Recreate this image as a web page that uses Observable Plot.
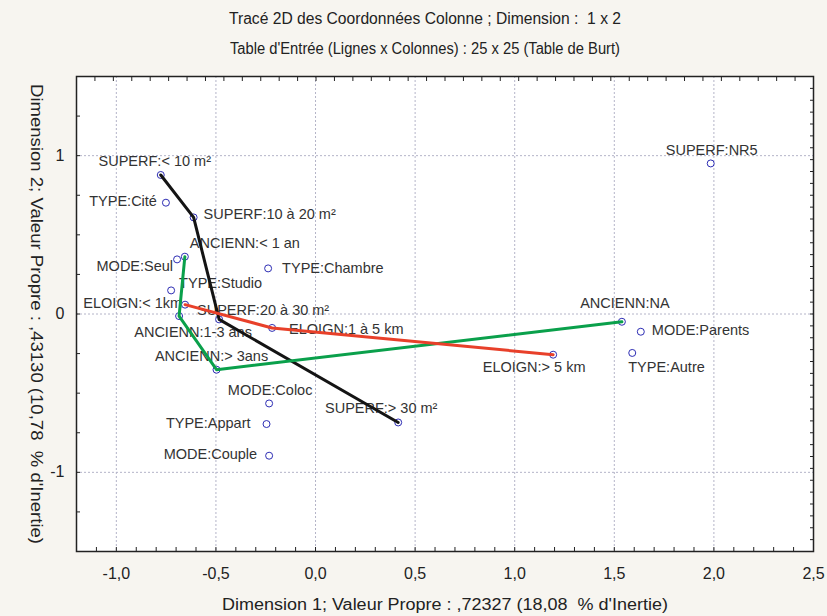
<!DOCTYPE html>
<html><head><meta charset="utf-8">
<script src="https://cdn.jsdelivr.net/npm/d3@7"></script>
<script src="https://cdn.jsdelivr.net/npm/@observablehq/plot@0.6"></script>
<style>
body{margin:0;background:#f7f5f0;}
#chart svg{display:block;}
</style></head><body><div id="chart"></div>
<script>
const labels = ["SUPERF:< 10 m²","TYPE:Cité","SUPERF:10 à 20 m²","ANCIENN:< 1 an","MODE:Seul","TYPE:Studio","ELOIGN:< 1km","ANCIENN:1-3 ans","SUPERF:20 à 30 m²","ELOIGN:1 à 5 km","ANCIENN:> 3ans","MODE:Coloc","TYPE:Appart","MODE:Couple","SUPERF:> 30 m²","TYPE:Chambre","SUPERF:NR5","ANCIENN:NA","MODE:Parents","TYPE:Autre","ELOIGN:> 5 km"];
const dim1 = [-0.777,-0.751,-0.612,-0.656,-0.695,-0.725,-0.655,-0.685,-0.484,-0.218,-0.497,-0.233,-0.246,-0.233,0.415,-0.238,1.984,1.538,1.633,1.590,1.193];
const dim2 = [0.878,0.703,0.610,0.362,0.345,0.149,0.059,-0.013,-0.034,-0.088,-0.352,-0.565,-0.695,-0.895,-0.685,0.288,0.951,-0.049,-0.112,-0.246,-0.257];
const superfPath = ["SUPERF:< 10 m²","SUPERF:10 à 20 m²","SUPERF:20 à 30 m²","SUPERF:> 30 m²"];
const anciennPath = ["ANCIENN:< 1 an","ANCIENN:1-3 ans","ANCIENN:> 3ans","ANCIENN:NA"];
const eloignPath = ["ELOIGN:< 1km","ELOIGN:1 à 5 km","ELOIGN:> 5 km"];
const xTicks = [-1.0,-0.5,0.0,0.5,1.0,1.5,2.0,2.5];
const yTicks = [-1,0,1];
const title = "Tracé 2D des Coordonnées Colonne ; Dimension :  1 x 2";
const subtitle = "Table d'Entrée (Lignes x Colonnes) : 25 x 25 (Table de Burt)";
const xLabel = "Dimension 1; Valeur Propre : ,72327 (18,08  % d'Inertie)";
const yLabel = "Dimension 2; Valeur Propre : ,43130 (10,78  % d'Inertie)";

// label placement (layout only)
const placement = {
  "SUPERF:< 10 m²":["middle",-6,-14],
  "TYPE:Cité":["end",-9,-1],
  "SUPERF:10 à 20 m²":["start",10,-3],
  "ANCIENN:< 1 an":["start",5,-13],
  "MODE:Seul":["end",-4,7],
  "TYPE:Studio":["start",8,-7],
  "ELOIGN:< 1km":["end",-3,-1],
  "ANCIENN:1-3 ans":["middle",14,16],
  "SUPERF:20 à 30 m²":["middle",44,-9],
  "ELOIGN:1 à 5 km":["start",17,1],
  "ANCIENN:> 3ans":["middle",-5,-13],
  "MODE:Coloc":["middle",1,-13],
  "TYPE:Appart":["end",-16,-1],
  "MODE:Couple":["end",-12,-1],
  "SUPERF:> 30 m²":["middle",-17,-14],
  "TYPE:Chambre":["start",14,0],
  "SUPERF:NR5":["middle",1,-13],
  "ANCIENN:NA":["middle",3,-18],
  "MODE:Parents":["start",11,-1],
  "TYPE:Autre":["start",-4,14],
  "ELOIGN:> 5 km":["middle",-19,13]
};

const rows = labels.map((l,i)=>({label:l, x:dim1[i], y:dim2[i]}));
const byLabel = new Map(rows.map(r=>[r.label,r]));
const path = names => names.map(n=>byLabel.get(n));

const sans = "'Liberation Sans',Arial,sans-serif";
const fmtX = d => d.toFixed(1).replace(".", ",");

const minorBottom = d3.range(-12, 26).map(i=>i/10);
const minorTop = d3.range(0, 41).map(i=>-1.2 + i*3.7/40);
const minorLeft = d3.range(-6, 7).map(i=>i/4);
const minorRight = d3.range(0, 41).map(i=>-1.5 + i*3/40);

const textMarks = rows.map(r=>{
  const [a,dx,dy] = placement[r.label];
  return Plot.text([r], {x:"x", y:"y", text:"label", textAnchor:a, dx, dy, fontSize:14.5, fill:"#333", fontFamily:sans, lineAnchor:"middle"});
});

const tickStyle = {tickFormat:()=>"", label:null, stroke:"#222"};

const chart = Plot.plot({
  width: 827, height: 616,
  marginLeft: 76, marginRight: 14, marginTop: 76, marginBottom: 65,
  style: {background:"#f7f5f0", fontFamily: sans},
  x: {domain:[-1.2,2.5]},
  y: {domain:[-1.5,1.5]},
  marks: [
    Plot.frame({fill:"white", stroke:null}),
    Plot.gridX(xTicks, {stroke:"#b4b4c8", strokeOpacity:1, strokeDasharray:"2,2"}),
    Plot.gridY(yTicks, {stroke:"#b4b4c8", strokeOpacity:1, strokeDasharray:"2,2"}),
    Plot.axisX(minorBottom, {anchor:"bottom", tickSize:4, dy:-4, ...tickStyle}),
    Plot.axisX(minorTop, {anchor:"top", tickSize:4, dy:4, ...tickStyle}),
    Plot.axisY(minorLeft, {anchor:"left", tickSize:4, dx:4, ...tickStyle}),
    Plot.axisY(minorRight, {anchor:"right", tickSize:4, dx:-4, ...tickStyle}),
    Plot.axisX(xTicks, {anchor:"bottom", tickSize:0, tickPadding:16, tickFormat:fmtX, fontSize:16, fill:"#222", label:null}),
    Plot.axisY(yTicks, {anchor:"left", tickSize:0, tickPadding:12, tickFormat:d=>String(d), fontSize:16, fill:"#222", label:null}),
    ...textMarks,
    Plot.dot(rows, {x:"x", y:"y", r:3.5, stroke:"#2d2db4", fill:"white", strokeWidth:1}),
    Plot.line(path(superfPath), {x:"x", y:"y", stroke:"#141414", strokeWidth:3}),
    Plot.line(path(anciennPath), {x:"x", y:"y", stroke:"#0aa04b", strokeWidth:3}),
    Plot.line(path(eloignPath), {x:"x", y:"y", stroke:"#e8402a", strokeWidth:3}),
    Plot.frame({stroke:"#222", strokeWidth:1.5}),
    Plot.text([title], {frameAnchor:"top", dx:-20, dy:-58, lineAnchor:"middle", fontSize:16, fill:"#222"}),
    Plot.text([subtitle], {frameAnchor:"top", dx:-20, dy:-28, lineAnchor:"middle", fontSize:16, fill:"#222"}),
    Plot.text([xLabel], {frameAnchor:"bottom", dy:53, lineAnchor:"middle", fontSize:16, fill:"#222"}),
    Plot.text([yLabel], {frameAnchor:"left", dx:-40, rotate:90, textAnchor:"middle", lineAnchor:"middle", fontSize:16.5, fill:"#222"})
  ]
});
// fit headline/axis-title widths to the reference (narrow typeface look)
const fitWidths = new Map([[title,392],[subtitle,390],[xLabel,446],[yLabel,460]]);
chart.querySelectorAll("text").forEach(t=>{
  const w = fitWidths.get(t.textContent);
  if (w) { t.setAttribute("textLength", w); t.setAttribute("lengthAdjust", "spacingAndGlyphs"); }
});
document.getElementById("chart").append(chart);
</script></body></html>
